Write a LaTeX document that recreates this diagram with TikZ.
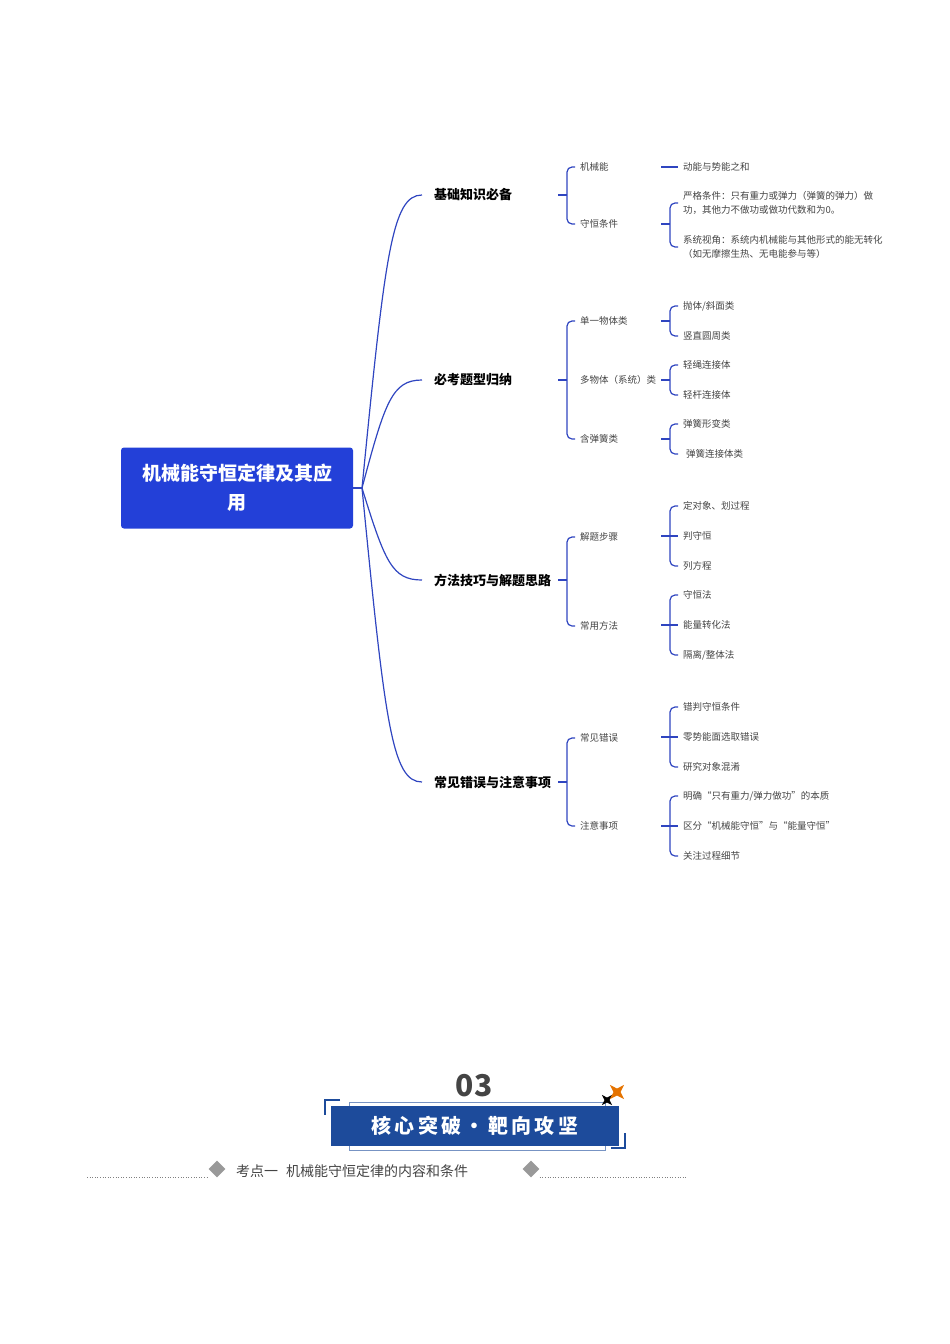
\documentclass[tikz,border=0pt]{standalone}
\usepackage{fontspec}
\setmainfont{Noto Sans CJK SC}
\newfontfamily\cjk{Noto Sans CJK SC}
\usetikzlibrary{shapes.geometric}
\definecolor{mblue}{HTML}{2340D8}
\definecolor{lblue}{HTML}{2F45C0}
\definecolor{hblue}{HTML}{1D4B9B}
\definecolor{gtxt}{HTML}{444444}
\tikzset{
 lk/.style={draw=lblue,line width=1.2pt},
 br/.style={draw=lblue,line width=1.2pt,rounded corners=5pt},
 lone/.style={anchor=west,inner sep=0pt,font=\bfseries\fontsize{13}{15}\selectfont,text=black},
 ltwo/.style={anchor=west,inner sep=0pt,font=\fontsize{9.5}{12}\selectfont,text=gtxt},
 lthr/.style={anchor=west,inner sep=0pt,font=\fontsize{9.5}{14}\selectfont,text=gtxt,align=left},
}
\newcommand{\brk}[4]{% x, ytick, ytop, ybot
 \draw[lk] ({#1-9},#2) -- (#1,#2);
 \draw[br] ({#1+8},#3) -- (#1,#3) -- (#1,#4) -- ({#1+8},#4);}
\begin{document}
\begin{tikzpicture}[x=1pt,y=-1pt]
\useasboundingbox (0,0) rectangle (950,1344);
% root
\node[fill=mblue,rounded corners=3pt,minimum width=232pt,minimum height=81pt,text=white,align=center,font=\bfseries\fontsize{19}{29}\selectfont] (root) at (237,488) {机械能守恒定律及其应\\用};
\coordinate (hub) at (362,488);
\draw[lk] (root.east) -- (hub);
\node[lone] (a) at (434,195) {基础知识必备};
\node[lone] (b) at (434,380) {必考题型归纳};
\node[lone] (c) at (434,580) {方法技巧与解题思路};
\node[lone] (d) at (434,782) {常见错误与注意事项};
\draw[lk] (hub) .. controls (385,254) and (392,195) .. (422,195);
\draw[lk] (hub) .. controls (385,402) and (392,380) .. (422,380);
\draw[lk] (hub) .. controls (385,562) and (392,580) .. (422,580);
\draw[lk] (hub) .. controls (385,723) and (392,782) .. (422,782);
% level 2
\brk{567}{195}{167}{224}
\node[ltwo] (a1) at (580,167) {机械能};
\node[ltwo] (a2) at (580,224) {守恒条件};
\brk{567}{380}{321}{439}
\node[ltwo] (b1) at (580,321) {单一物体类};
\node[ltwo] (b2) at (580,380) {多物体（系统）类};
\node[ltwo] (b3) at (580,439) {含弹簧类};
\brk{567}{580}{537}{626}
\node[ltwo] (c1) at (580,537) {解题步骤};
\node[ltwo] (c2) at (580,626) {常用方法};
\brk{567}{782}{738}{826}
\node[ltwo] (d1) at (580,738) {常见错误};
\node[ltwo] (d2) at (580,826) {注意事项};
% level 3
\draw[lk] (661,167) -- (678,167);
\node[lthr] (a11) at (683,167) {动能与势能之和};
\brk{670}{224}{203}{247}
\node[lthr] (a21) at (683,203) {严格条件：只有重力或弹力（弹簧的弹力）做\\功，其他力不做功或做功代数和为0。};
\node[lthr] (a22) at (683,247) {系统视角：系统内机械能与其他形式的能无转化\\（如无摩擦生热、无电能参与等）};
\brk{670}{321}{306}{336}
\node[lthr] (b11) at (683,306) {抛体/斜面类};
\node[lthr] (b12) at (683,336) {竖直圆周类};
\brk{670}{380}{365}{395}
\node[lthr] (b21) at (683,365) {轻绳连接体};
\node[lthr] (b22) at (683,395) {轻杆连接体};
\brk{670}{439}{424}{454}
\node[lthr] (b31) at (683,424) {弹簧形变类};
\node[lthr] (b32) at (686,454) {弹簧连接体类};
\brk{670}{536}{506}{566}
\node[lthr] (c11) at (683,506) {定对象、划过程};
\node[lthr] (c12) at (683,536) {判守恒};
\node[lthr] (c13) at (683,566) {列方程};
\draw[lk] (670,536) -- (678,536);
\brk{670}{625}{595}{655}
\node[lthr] (c21) at (683,595) {守恒法};
\node[lthr] (c22) at (683,625) {能量转化法};
\node[lthr] (c23) at (683,655) {隔离/整体法};
\draw[lk] (670,625) -- (678,625);
\brk{670}{737}{707}{767}
\node[lthr] (d11) at (683,707) {错判守恒条件};
\node[lthr] (d12) at (683,737) {零势能面选取错误};
\node[lthr] (d13) at (683,767) {研究对象混淆};
\draw[lk] (670,737) -- (678,737);
\brk{670}{826}{796}{856}
\node[lthr] (d21) at (683,796) {明确“只有重力/弹力做功”的本质};
\node[lthr] (d22) at (683,826) {区分“机械能守恒”与“能量守恒”};
\node[lthr] (d23) at (683,856) {关注过程细节};
\draw[lk] (670,826) -- (678,826);
% bottom header
\node[font=\bfseries\fontsize{30}{30}\selectfont,text=gtxt] (num) at (474,1086) {03};
\draw[draw=hblue!60,line width=0.7pt] (349,1102) rectangle (605,1150);
\node[fill=hblue,minimum width=288pt,minimum height=40pt,text=white,font=\bfseries\fontsize{20}{20}\selectfont] (ban) at (475,1126) {核\,心\,突\,破\,·\,靶\,向\,攻\,坚};
\draw[draw=hblue,line width=1.5pt] (340,1100) -- (325,1100) -- (325,1115);
\draw[draw=hblue,line width=1.5pt] (611,1148) -- (625,1148) -- (625,1133);
\node[star,star points=4,star point ratio=0.35,fill=black,inner sep=0pt,minimum size=5pt] (s1) at (607,1100) {};
\node[star,star points=4,star point ratio=0.35,fill=orange!90!black,inner sep=0pt,minimum size=7pt] (s2) at (617,1092) {};
\node[diamond,fill=gray!80,inner sep=0pt,minimum size=17pt] (dm1) at (217,1169) {};
\node[diamond,fill=gray!80,inner sep=0pt,minimum size=17pt] (dm2) at (531,1169) {};
\node[anchor=west,inner sep=0pt,font=\fontsize{14}{14}\selectfont,text=gtxt] (kd) at (236,1171) {考点一\hspace{8pt}机械能守恒定律的内容和条件};
\coordinate (l1) at (87,1177);
\coordinate (l2) at (687,1177);
\draw[gray,dotted,line width=0.6pt] (l1) -- (dm1.west |- l1);
\draw[gray,dotted,line width=0.6pt] (dm2.east |- l2) -- (l2);
\end{tikzpicture}
\end{document}
